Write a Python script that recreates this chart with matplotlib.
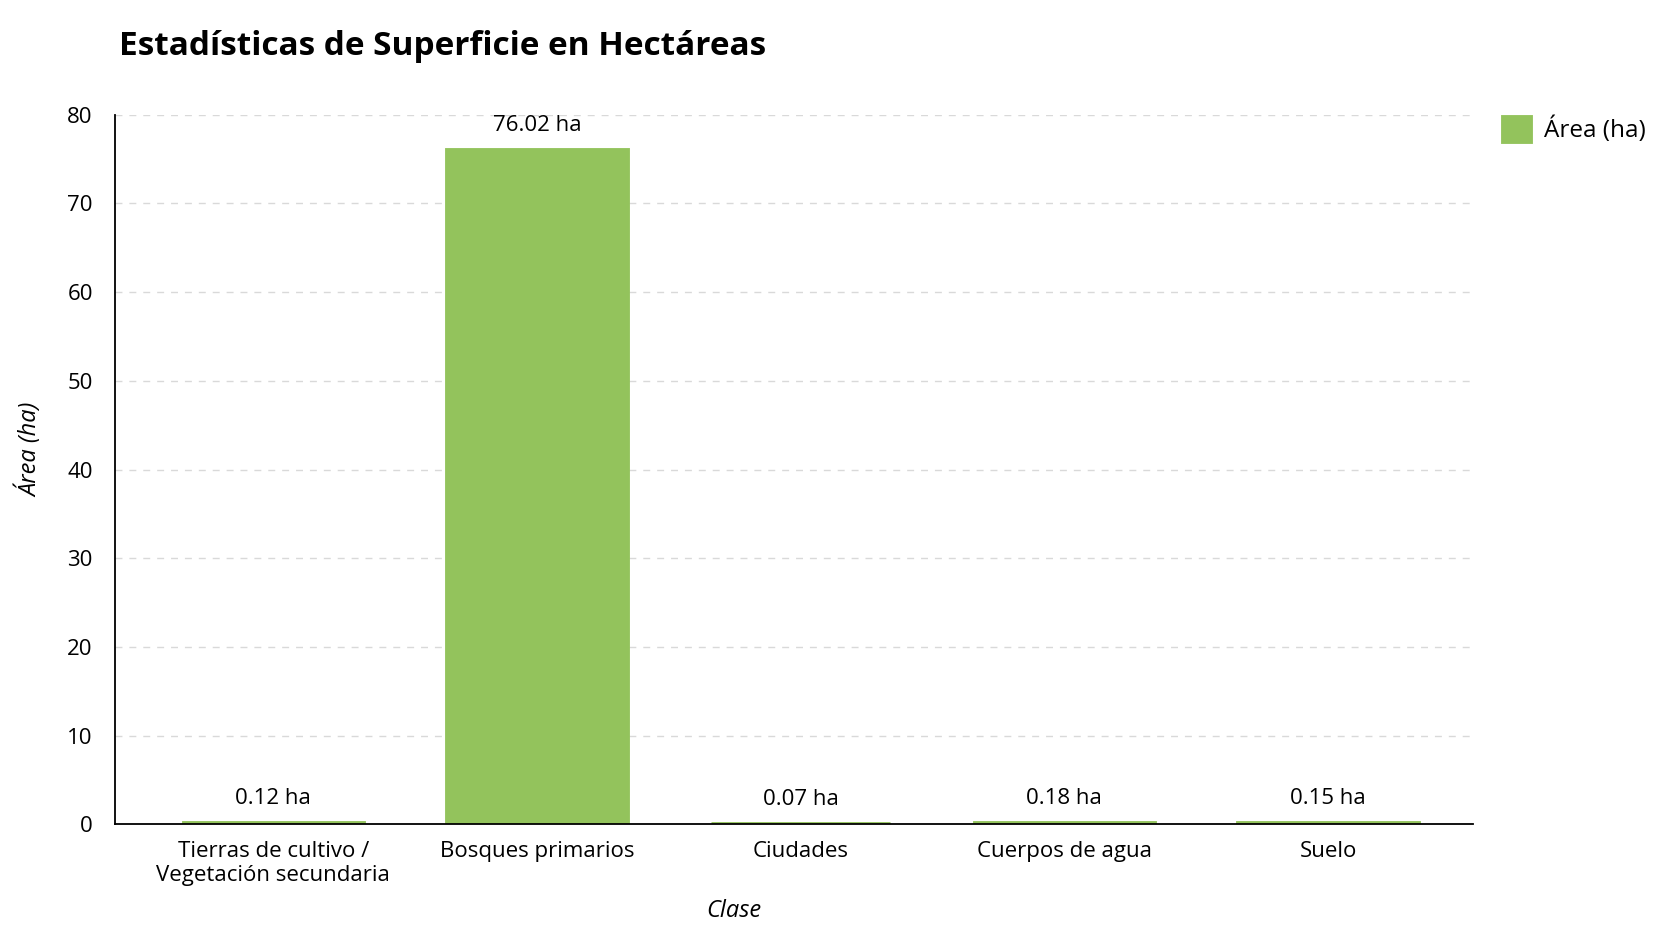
import matplotlib
matplotlib.use('Agg')
import matplotlib.pyplot as plt

# datos
clases = ['Tierras de cultivo /\nVegetación secundaria', 'Bosques primarios',
          'Ciudades', 'Cuerpos de agua', 'Suelo']
areas_ha = [0.12, 76.02, 0.07, 0.18, 0.15]
y_ticks = [0, 10, 20, 30, 40, 50, 60, 70, 80]

plt.rcParams['font.family'] = ['Open Sans', 'Noto Sans', 'DejaVu Sans']

verde = '#93c35c'

fig = plt.figure(figsize=(16.72, 9.41), dpi=100)
ax = fig.add_axes([0.0688, 0.124, 0.8122, 0.754])

x = range(len(clases))
# borde del mismo color para que las barras pequeñas se vean
bars = ax.bar(x, areas_ha, width=0.68, color=verde, edgecolor=verde,
              linewidth=3.5, label='Área (ha)', zorder=2)

# etiquetas de valor
for bar, v in zip(bars, areas_ha):
    ax.annotate(f'{v:.2f} ha', (bar.get_x() + bar.get_width() / 2, bar.get_height()),
                xytext=(0, 10), textcoords='offset points',
                ha='center', va='bottom', fontsize=16)

ax.set_xlim(-0.6, 4.55)
ax.set_ylim(0, 80)
ax.set_yticks(y_ticks)
ax.set_xticks(list(x))
ax.set_xticklabels(clases, fontsize=16, linespacing=1.2)
ax.tick_params(axis='x', length=0, labelsize=16, pad=12)
ax.tick_params(axis='y', length=0, labelsize=16, pad=16)

ax.grid(True, axis='y', linestyle=(0, (5, 5)), color='#d9d9d9', linewidth=1, zorder=0)
ax.set_axisbelow(True)

for s in ['top', 'right']:
    ax.spines[s].set_visible(False)
ax.spines['left'].set_linewidth(1.3)
ax.spines['bottom'].set_linewidth(1.3)

ax.set_ylabel('Área (ha)', fontsize=17, fontstyle='italic')
ax.yaxis.set_label_coords(-0.053, 0.528)
ax.set_xlabel('Clase', fontsize=17, fontstyle='italic')
ax.xaxis.set_label_coords(0.456, -0.105)

fig.text(0.071, 0.951, 'Estadísticas de Superficie en Hectáreas',
         fontsize=24, fontweight='bold', ha='left', va='center')

ax.legend(loc='upper left', bbox_to_anchor=(1.006, 1.028), frameon=False,
          fontsize=17.5, handlelength=1.1, handleheight=1.1, handletextpad=0.6)

plt.savefig('out.png', dpi=100)
plt.close()
